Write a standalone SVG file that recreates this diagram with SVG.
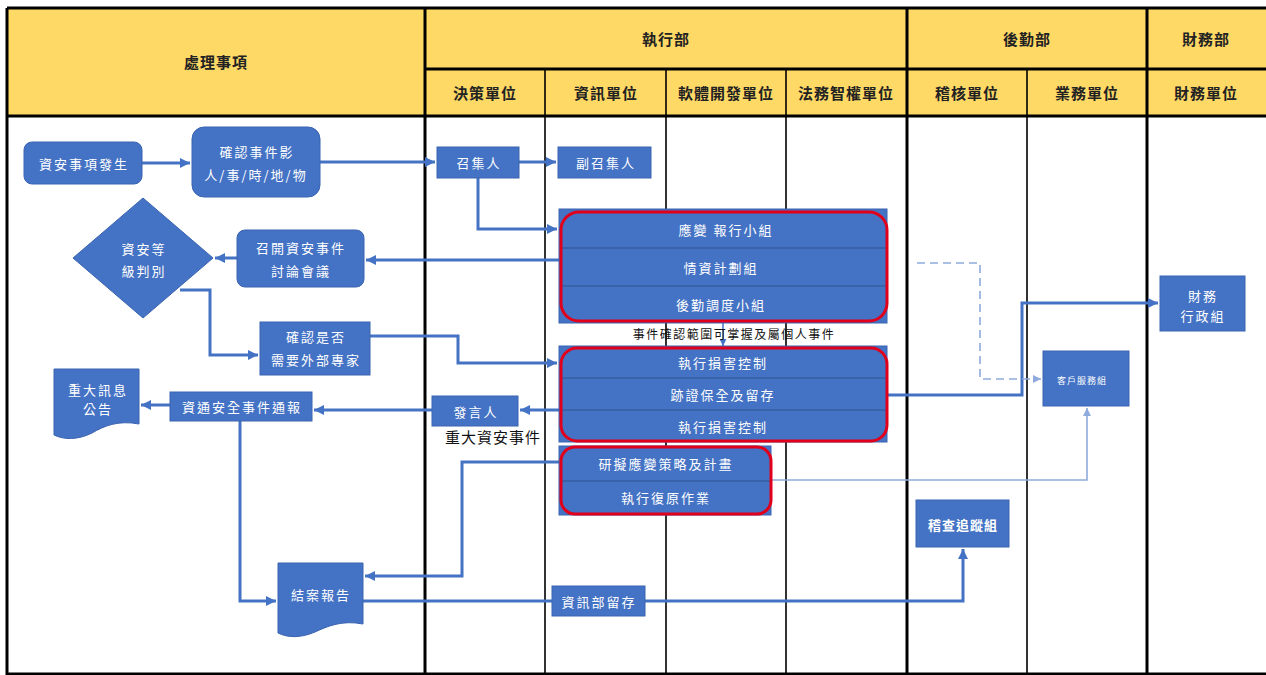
<svg xmlns="http://www.w3.org/2000/svg" width="1266" height="675" viewBox="0 0 1266 675">
<defs>
<marker id="ah" markerUnits="userSpaceOnUse" markerWidth="10" markerHeight="10" refX="10" refY="5" orient="auto"><path d="M0,0 L10,5 L0,10 z" fill="#4472C4"/></marker>
<marker id="ahs" markerUnits="userSpaceOnUse" markerWidth="7" markerHeight="7" refX="7" refY="3.5" orient="auto"><path d="M0,0 L7,3.5 L0,7 z" fill="#4472C4"/></marker>
<marker id="ahl" markerUnits="userSpaceOnUse" markerWidth="8" markerHeight="8" refX="8" refY="4" orient="auto"><path d="M0,0 L8,4 L0,8 z" fill="#8FAADC"/></marker>
</defs>
<style>
.hdr{fill:#FFD966}
.g{stroke:#000;stroke-width:1.6;fill:none}
.gt{stroke:#000;stroke-width:3;fill:none}
.ht{font-family:"Liberation Sans","Noto Sans CJK TC",sans-serif;font-weight:bold;font-size:15px;fill:#222;text-anchor:middle;dominant-baseline:central;letter-spacing:1px}
.n{fill:#4472C4;stroke:#3B64B0;stroke-width:1}
.nt{font-family:"Noto Sans CJK TC",sans-serif;font-size:13px;fill:#fff;text-anchor:middle;dominant-baseline:central;letter-spacing:2px}
.nt.small{font-size:9px;letter-spacing:1px}
.nt.bold{font-weight:bold;letter-spacing:1px}
.red{fill:none;stroke:#E0001B;stroke-width:3}
.dv{stroke:#2F528F;stroke-width:1}
.c{fill:none;stroke:#4472C4;stroke-width:3;marker-end:url(#ah)}
.cs{fill:none;stroke:#4472C4;stroke-width:1.5;marker-end:url(#ahs)}
.cl{fill:none;stroke:#8FAADC;stroke-width:1.6;marker-end:url(#ahl)}
.cd{fill:none;stroke:#8FAADC;stroke-width:1.6;stroke-dasharray:8 5;marker-end:url(#ahl)}
.bt{font-family:"Noto Sans CJK TC",sans-serif;fill:#111;text-anchor:middle;dominant-baseline:central}
.bt.s{font-size:12px;letter-spacing:1.5px}
.bt.m{font-size:15px;letter-spacing:1px}
</style>
<g id="lanes">
<rect class="hdr" x="7" y="8" width="1260" height="108"/>
<rect x="7" y="116" width="1260" height="559" fill="#fff"/>
<path class="g" d="M545,69V675 M666,69V675 M786,69V675 M1027,69V675"/>
<path class="gt" d="M7,8H1266 M425,69H1266 M7,116H1266 M7,8V675 M425,8V675 M907,8V675 M1147,8V675 M7,674H1266"/>
<text class="ht" x="216" y="62">處理事項</text>
<text class="ht" x="666" y="39">執行部</text>
<text class="ht" x="1027" y="39">後勤部</text>
<text class="ht" x="1206" y="39">財務部</text>
<text class="ht" x="485" y="93">決策單位</text>
<text class="ht" x="606" y="93">資訊單位</text>
<text class="ht" x="726" y="93">軟體開發單位</text>
<text class="ht" x="846" y="93">法務智權單位</text>
<text class="ht" x="967" y="93">稽核單位</text>
<text class="ht" x="1087" y="93">業務單位</text>
<text class="ht" x="1206" y="93">財務單位</text>
</g>
<g id="connectors">
<path class="c" d="M142,163H190"/>
<path class="c" d="M320,162H435"/>
<path class="c" d="M519,162H556"/>
<path class="c" d="M478,178V229H557"/>
<path class="c" d="M559,260H366"/>
<path class="c" d="M237,258H215"/>
<path class="c" d="M180,290H210V355H258"/>
<path class="c" d="M370,336H458V363H557"/>
<path class="cs" d="M723,322V346"/>
<path class="c" d="M559,410H520"/>
<path class="c" d="M432,410H314"/>
<path class="c" d="M170,405H141"/>
<path class="c" d="M240,420V601H276"/>
<path class="c" d="M559,462H462V576H365"/>
<path class="c" d="M363,601H963V549"/>
<path class="c" d="M887,395H1022V303H1158"/>
<path class="cl" d="M771,480H1087V408"/>
<path class="cd" d="M917,263H980V379H1041"/>
</g>
<g id="n-start"><rect class="n" x="24" y="142" width="118" height="42" rx="8"/><text class="nt" x="84" y="163">資安事項發生</text></g>
<g id="n-confirm"><rect class="n" x="192" y="127" width="128" height="70" rx="12"/><text class="nt" x="257" y="151">確認事件影</text><text class="nt" x="256" y="174">人/事/時/地/物</text></g>
<g id="n-convener"><rect class="n" x="437" y="147" width="82" height="31"/><text class="nt" x="479" y="162">召集人</text></g>
<g id="n-vice"><rect class="n" x="558" y="147" width="93" height="31"/><text class="nt" x="606" y="162">副召集人</text></g>
<g id="n-meeting"><rect class="n" x="237" y="230" width="127" height="57" rx="8"/><text class="nt" x="301" y="247">召開資安事件</text><text class="nt" x="301" y="270">討論會議</text></g>
<g id="n-level"><polygon class="n" points="143,198 213,258 143,318 73,258"/><text class="nt" x="144" y="248">資安等</text><text class="nt" x="144" y="270">級判別</text></g>
<g id="n-expert"><rect class="n" x="260" y="322" width="110" height="53"/><text class="nt" x="316" y="336">確認是否</text><text class="nt" x="316" y="359">需要外部專家</text></g>
<g id="n-team1"><rect class="n" x="559" y="209" width="328" height="114"/><path class="dv" d="M561,248H887 M561,286H887"/><rect class="red" x="561" y="212" width="326" height="109" rx="18"/><text class="nt" x="726" y="229">應變 報行小組</text><text class="nt" x="721" y="267">情資計劃組</text><text class="nt" x="721" y="304">後勤調度小組</text></g>
<text class="bt s" x="734" y="333">事件確認範圍可掌握及屬個人事件</text>
<g id="n-team2"><rect class="n" x="559" y="346" width="328" height="96"/><path class="dv" d="M561,378H887 M561,410H887"/><rect class="red" x="561" y="348" width="326" height="93" rx="16"/><text class="nt" x="723" y="362">執行損害控制</text><text class="nt" x="723" y="394">跡證保全及留存</text><text class="nt" x="723" y="426">執行損害控制</text></g>
<g id="n-team3"><rect class="n" x="559" y="446" width="212" height="69"/><path class="dv" d="M561,481H771"/><rect class="red" x="561" y="447" width="210" height="67" rx="14"/><text class="nt" x="666" y="463">研擬應變策略及計畫</text><text class="nt" x="666" y="497">執行復原作業</text></g>
<g id="n-speaker"><rect class="n" x="432" y="396" width="86" height="30"/><text class="nt" x="476" y="411">發言人</text><text class="bt m" x="493" y="436">重大資安事件</text></g>
<g id="n-notify"><rect class="n" x="170" y="392" width="142" height="29"/><text class="nt" x="242" y="406">資通安全事件通報</text></g>
<g id="n-announce"><path class="n" d="M54,369H139V424C118,420 104,426 92,433C78,440 64,440 54,435Z"/><text class="nt" x="98" y="389">重大訊息</text><text class="nt" x="98" y="408">公告</text></g>
<g id="n-report"><path class="n" d="M278,563H363V624C342,620 328,626 315,632C301,638 288,638 278,633Z"/><text class="nt" x="321" y="594">結案報告</text></g>
<g id="n-archive"><rect class="n" x="552" y="586" width="93" height="30"/><text class="nt" x="599" y="601">資訊部留存</text></g>
<g id="n-audit"><rect class="n" x="916" y="500" width="93" height="47"/><text class="nt bold" x="963" y="524">稽查追蹤組</text></g>
<g id="n-service"><rect class="n" x="1043" y="351" width="86" height="55"/><text class="nt small" x="1082" y="380">客戶服務組</text></g>
<g id="n-finance"><rect class="n" x="1160" y="276" width="85" height="55"/><text class="nt" x="1203" y="295">財務</text><text class="nt" x="1203" y="315">行政組</text></g>
</svg>
